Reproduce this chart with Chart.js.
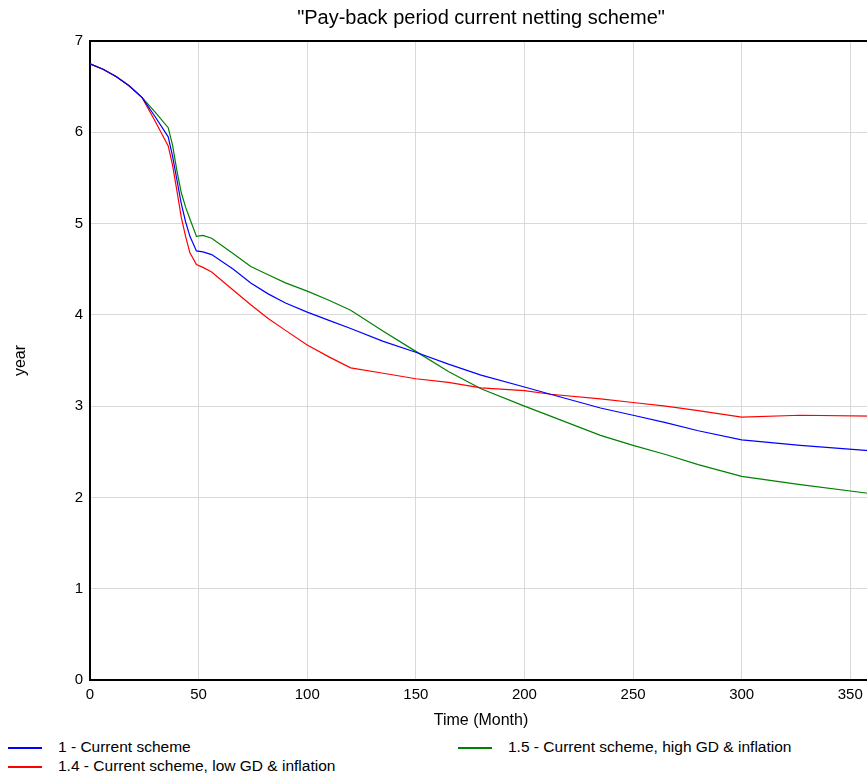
<!DOCTYPE html>
<html>
<head>
<meta charset="utf-8">
<script src="https://cdn.jsdelivr.net/npm/chart.js@4/dist/chart.umd.min.js"></script>
<style>
  html, body { margin: 0; padding: 0; overflow: hidden; background: #fff; width: 867px; height: 778px; }
  #wrap { position: absolute; left: 0; top: 0; width: 880px; height: 735px; }
  .item { position: absolute; font: 15.5px "Liberation Sans", Arial, sans-serif; color: #000; white-space: nowrap; line-height: 18px; }
  .item .sw { position: absolute; top: 9px; width: 34px; height: 2px; }
</style>
</head>
<body>
<div id="wrap"><canvas id="c" width="880" height="735"></canvas></div>
<div id="legend"></div>
<script>
// Simulation time (months) and pay-back period (years) per scenario
const months = [0, 6, 12, 18, 24, 30, 36, 38, 40, 42, 44, 46, 49, 52, 56, 66, 74, 82, 90, 100, 110, 120,
  135, 150, 165, 180, 200, 212, 235, 250, 265, 280, 300, 327, 360];

const currentScheme = [6.75, 6.69, 6.61, 6.51, 6.38, 6.17, 5.95, 5.74, 5.48, 5.22, 5.02, 4.86, 4.70, 4.69, 4.66,
  4.50, 4.35, 4.23, 4.13, 4.03, 3.94, 3.85, 3.71, 3.59, 3.46, 3.34, 3.21, 3.13, 2.98, 2.90, 2.82, 2.73, 2.63, 2.57, 2.51];

const lowGdInflation = [6.75, 6.69, 6.61, 6.51, 6.38, 6.12, 5.85, 5.64, 5.36, 5.07, 4.86, 4.68, 4.55, 4.52, 4.47,
  4.27, 4.11, 3.96, 3.83, 3.67, 3.54, 3.42, 3.36, 3.30, 3.26, 3.20, 3.17, 3.13, 3.08, 3.04, 3.00, 2.95, 2.88, 2.90, 2.89];

const highGdInflation = [6.75, 6.69, 6.61, 6.51, 6.38, 6.22, 6.05, 5.86, 5.58, 5.34, 5.18, 5.05, 4.86, 4.87, 4.84,
  4.67, 4.53, 4.44, 4.35, 4.26, 4.16, 4.05, 3.82, 3.60, 3.38, 3.19, 3.00, 2.89, 2.68, 2.57, 2.47, 2.36, 2.23, 2.14, 2.04];

const seriesNames = ['1 - Current scheme', '1.4 - Current scheme, low GD & inflation', '1.5 - Current scheme, high GD & inflation'];
const seriesColors = ['#0000ff', '#ff0000', '#008000'];
const seriesValues = [currentScheme, lowGdInflation, highGdInflation];

const chartTitle = '"Pay-back period current netting scheme"';
const xTitle = 'Time (Month)';
const yTitle = 'year';

const FONT = '"Liberation Sans", Arial, sans-serif';

// Frame across the top of the plot and the centred title
const frameAndTitle = {
  id: 'frameAndTitle',
  afterDraw(chart) {
    const { ctx, chartArea: a } = chart;
    ctx.save();
    ctx.strokeStyle = '#000';
    ctx.lineWidth = 2;
    ctx.beginPath();
    ctx.moveTo(a.left - 1, a.top);
    ctx.lineTo(a.right, a.top);
    ctx.stroke();
    ctx.fillStyle = '#000';
    ctx.font = '20px ' + FONT;
    ctx.textAlign = 'center';
    ctx.textBaseline = 'middle';
    ctx.fillText(chartTitle, (a.left + a.right) / 2, 18);
    ctx.restore();
  }
};

const datasets = seriesValues.map((vals, i) => ({
  label: seriesNames[i],
  data: months.map((m, k) => ({ x: m, y: vals[k] })),
  borderColor: seriesColors[i],
  backgroundColor: seriesColors[i],
  borderWidth: 1.2,
  pointRadius: 0,
  tension: 0,
  fill: false
}));

new Chart(document.getElementById('c'), {
  type: 'line',
  data: { datasets },
  plugins: [frameAndTitle],
  options: {
    responsive: false,
    animation: false,
    devicePixelRatio: 1,
    layout: { padding: { top: 41, right: 8, left: 0, bottom: 0 } },
    plugins: { legend: { display: false }, title: { display: false }, tooltip: { enabled: false } },
    scales: {
      x: {
        type: 'linear',
        min: 0,
        max: 360,
        afterFit(s) { s.height = 55; },
        ticks: { stepSize: 50, includeBounds: false, color: '#000', font: { family: FONT, size: 15 }, padding: 6, maxRotation: 0 },
        grid: { color: '#d9d9d9', lineWidth: 1, drawTicks: false },
        border: { color: '#000', width: 2 },
        title: { display: true, text: xTitle, color: '#000', font: { family: FONT, size: 16 }, padding: { top: 0, bottom: 5 } }
      },
      y: {
        min: 0,
        max: 7,
        afterFit(s) { s.width = 90; },
        ticks: { stepSize: 1, color: '#000', font: { family: FONT, size: 15 }, padding: 7 },
        grid: { color: '#d9d9d9', lineWidth: 1, drawTicks: false },
        border: { color: '#000', width: 2 },
        title: { display: true, text: yTitle, color: '#000', font: { family: FONT, size: 16 }, padding: { top: 11, bottom: 0 } }
      }
    }
  }
});

// Legend below the axis: two columns
const legendPos = [[8, 738], [8, 757], [458, 738]];
const legend = document.getElementById('legend');
seriesNames.forEach((name, i) => {
  const el = document.createElement('div');
  el.className = 'item';
  el.style.left = legendPos[i][0] + 'px';
  el.style.top = legendPos[i][1] + 'px';
  el.style.paddingLeft = '50px';
  const sw = document.createElement('span');
  sw.className = 'sw';
  sw.style.left = '0px';
  sw.style.background = seriesColors[i];
  el.appendChild(sw);
  el.appendChild(document.createTextNode(name));
  legend.appendChild(el);
});
</script>
</body>
</html>
